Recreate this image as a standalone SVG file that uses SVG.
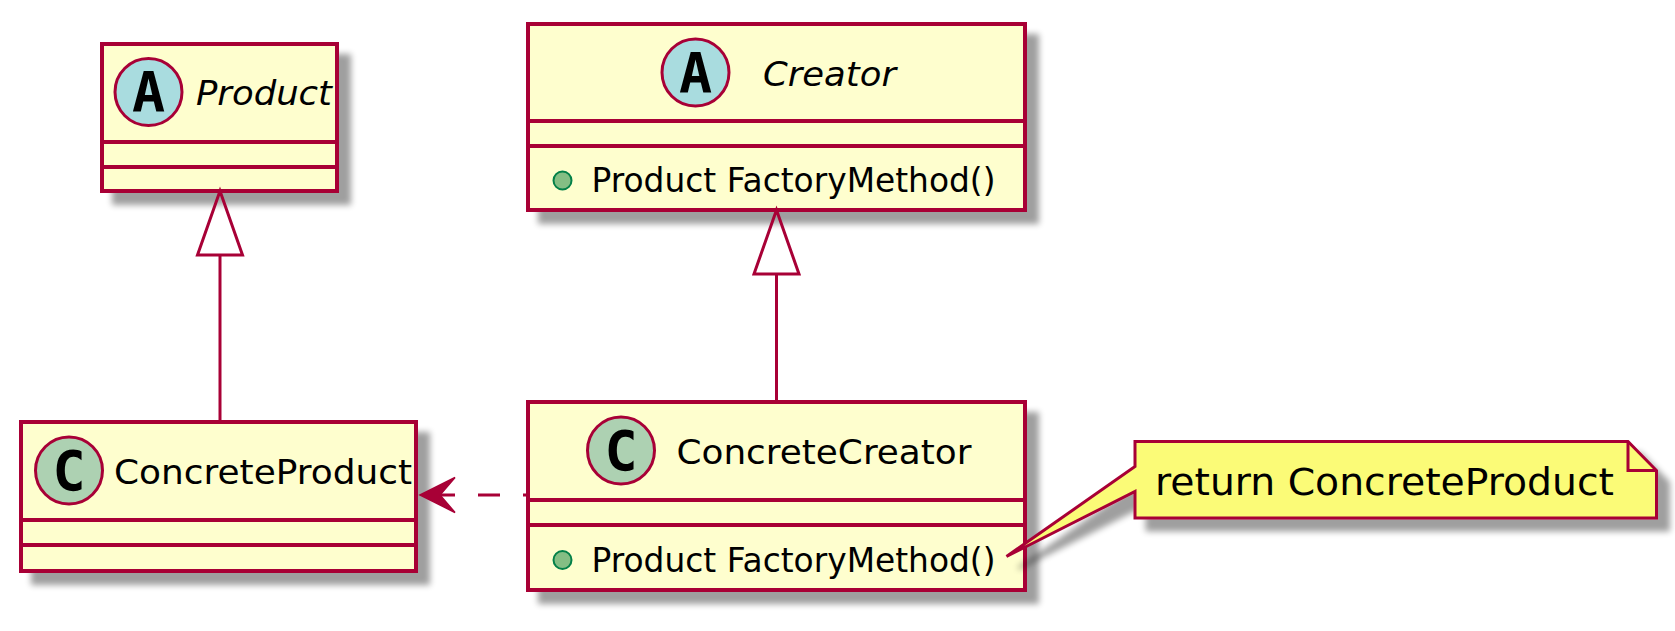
<svg xmlns="http://www.w3.org/2000/svg" width="1675" height="631" viewBox="0 0 1675 631">
<defs>
<filter id="sh" x="-10%" y="-10%" width="130%" height="140%">
<feGaussianBlur in="SourceAlpha" stdDeviation="3"/>
<feOffset dx="12" dy="12" result="o"/>
<feComponentTransfer><feFuncA type="linear" slope="0.38"/></feComponentTransfer>
<feMerge><feMergeNode/><feMergeNode in="SourceGraphic"/></feMerge>
</filter>
<style>
.box{fill:#FEFECE;stroke:#A80036;stroke-width:4}
.div{stroke:#A80036;stroke-width:4;fill:none}
.circA{fill:#A9DCDF;stroke:#A80036;stroke-width:3}
.circC{fill:#ADD1B2;stroke:#A80036;stroke-width:3}
.letter{font-family:"DejaVu Sans Mono","Liberation Mono",monospace;font-weight:bold;font-size:55px;fill:#000;text-anchor:middle}
.name{font-family:"DejaVu Sans","Liberation Sans",sans-serif;font-size:34px;fill:#000}
.it{font-style:italic}
.meth{font-family:"DejaVu Sans","Liberation Sans",sans-serif;font-size:33px;fill:#000}
.pub{fill:#84BE84;stroke:#038048;stroke-width:2}
.edge{stroke:#A80036;stroke-width:3;fill:none}
.note{fill:#FBFB77;stroke:#A80036;stroke-width:3}
.ntext{font-family:"DejaVu Sans","Liberation Sans",sans-serif;font-size:37px;fill:#000}
</style>
</defs>
<rect width="1675" height="631" fill="#FFFFFF"/>

<g id="Product">
<rect class="box" x="102" y="44" width="235" height="147" filter="url(#sh)"/>
<line class="div" x1="102" y1="142" x2="337" y2="142"/>
<line class="div" x1="102" y1="167" x2="337" y2="167"/>
<circle class="circA" cx="148.5" cy="92" r="33.5"/>
<text class="letter" x="148.5" y="111">A</text>
<text class="name it" x="196" y="105" textLength="136" lengthAdjust="spacingAndGlyphs">Product</text>
</g>

<g id="Creator">
<rect class="box" x="528" y="24" width="497" height="186" filter="url(#sh)"/>
<line class="div" x1="528" y1="121" x2="1025" y2="121"/>
<line class="div" x1="528" y1="146" x2="1025" y2="146"/>
<circle class="circA" cx="695.5" cy="72.5" r="33.5"/>
<text class="letter" x="695.5" y="91.5">A</text>
<text class="name it" x="763" y="86" textLength="133" lengthAdjust="spacingAndGlyphs">Creator</text>
<circle class="pub" cx="562.5" cy="180.5" r="9"/>
<text class="meth" x="591.5" y="192" textLength="404" lengthAdjust="spacingAndGlyphs">Product FactoryMethod()</text>
</g>

<g id="ConcreteProduct">
<rect class="box" x="21" y="422" width="395" height="149" filter="url(#sh)"/>
<line class="div" x1="21" y1="520" x2="416" y2="520"/>
<line class="div" x1="21" y1="545" x2="416" y2="545"/>
<circle class="circC" cx="69" cy="470.5" r="33.5"/>
<text class="letter" x="69" y="490">C</text>
<text class="name" x="114" y="484" textLength="298" lengthAdjust="spacingAndGlyphs">ConcreteProduct</text>
</g>

<g id="ConcreteCreator">
<rect class="box" x="528" y="402" width="497" height="188" filter="url(#sh)"/>
<line class="div" x1="528" y1="500" x2="1025" y2="500"/>
<line class="div" x1="528" y1="525" x2="1025" y2="525"/>
<circle class="circC" cx="621" cy="450.5" r="33.5"/>
<text class="letter" x="621" y="470">C</text>
<text class="name" x="676.5" y="464" textLength="295" lengthAdjust="spacingAndGlyphs">ConcreteCreator</text>
<circle class="pub" cx="562.5" cy="560" r="9"/>
<text class="meth" x="591.5" y="571.5" textLength="404" lengthAdjust="spacingAndGlyphs">Product FactoryMethod()</text>
</g>

<g id="connectors">
<line class="edge" x1="220" y1="255" x2="220" y2="422"/>
<polygon class="edge" fill="#FFFFFF" points="220,191 197.5,255 242.5,255"/>
<line class="edge" x1="776.5" y1="274" x2="776.5" y2="402"/>
<polygon class="edge" fill="#FFFFFF" points="776.5,210 754,274 799,274"/>
<line class="edge" x1="528" y1="495" x2="440" y2="495" stroke-dasharray="22 23" stroke-dashoffset="17"/>
<polygon points="420,495 455,477.5 440,495 455,512.5" fill="#A80036" stroke="#A80036" stroke-width="1.5" stroke-linejoin="miter"/>
</g>

<g id="note">
<path class="note" filter="url(#sh)" d="M1135,441.5 L1628,441.5 L1656.5,470.5 L1656.5,518 L1135,518 L1135,491.5 L1006.5,556.5 L1135,466.5 Z"/>
<path class="edge" d="M1628,441.5 L1628,470.5 L1656.5,470.5"/>
<text class="ntext" x="1155" y="495" textLength="459" lengthAdjust="spacingAndGlyphs">return ConcreteProduct</text>
</g>
</svg>
